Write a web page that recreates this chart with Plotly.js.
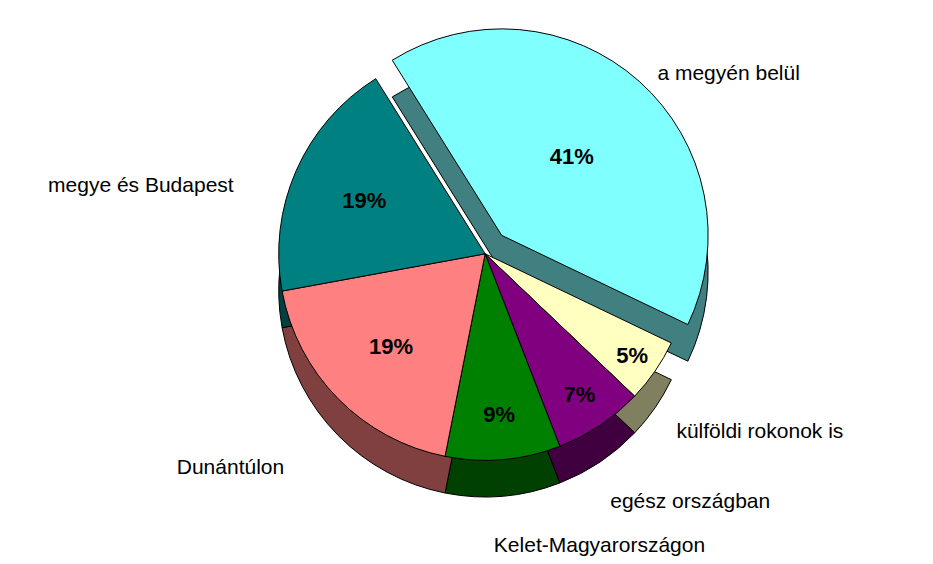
<!DOCTYPE html>
<html>
<head>
<meta charset="utf-8">
<script src="https://cdn.plot.ly/plotly-3.0.1.min.js"></script>
<style>html,body{margin:0;padding:0;background:#fff;}#chart{width:933px;height:564px;}</style>
</head>
<body>
<div id="chart"></div>
<script>
const categories = ["a megyén belül", "külföldi rokonok is", "egész országban", "Kelet-Magyarországon", "Dunántúlon", "megye és Budapest"];
const shares = [41, 5, 7, 9, 19, 19];
const topColors = ["#80FFFF", "#FFFFC0", "#800080", "#008000", "#FF8080", "#008080"];
const sideColors = ["#408080", "#808060", "#400040", "#004000", "#804040", "#004040"];
const pulls = [0.12, 0, 0, 0, 0, 0];

const fontFam = "'Liberation Sans', Arial, sans-serif";
const common = {
  type: "pie", values: shares, labels: categories, sort: false,
  direction: "clockwise", rotation: -32, pull: pulls, hoverinfo: "none",
  showlegend: false
};
const sideTrace = Object.assign({}, common, {
  domain: {x: [0.04, 1], y: [0.075, 0.895]},
  marker: {colors: sideColors, line: {color: "#000", width: 1}},
  textinfo: "none"
});
const topTrace = Object.assign({}, common, {
  domain: {x: [0.04, 1], y: [0.14, 0.96]},
  marker: {colors: topColors, line: {color: "#000", width: 1}},
  texttemplate: "<b>%{percent}</b>",
  textposition: "inside",
  insidetextorientation: "horizontal",
  insidetextfont: {family: fontFam, size: 22, color: "#000"}
});
const labelsTrace = Object.assign({}, common, {
  domain: {x: [0.0, 1], y: [0.0, 0.985]},
  marker: {colors: ["rgba(0,0,0,0)","rgba(0,0,0,0)","rgba(0,0,0,0)","rgba(0,0,0,0)","rgba(0,0,0,0)","rgba(0,0,0,0)"], line: {width: 0}},
  texttemplate: "%{label}",
  textposition: "outside",
  outsidetextfont: {family: fontFam, size: 21, color: "#000"}
});
Plotly.newPlot("chart", [sideTrace, topTrace, labelsTrace], {
  width: 933, height: 564,
  margin: {l: 0, r: 0, t: 0, b: 0},
  paper_bgcolor: "#fff",
  showlegend: false
}, {staticPlot: true});
</script>
</body>
</html>
